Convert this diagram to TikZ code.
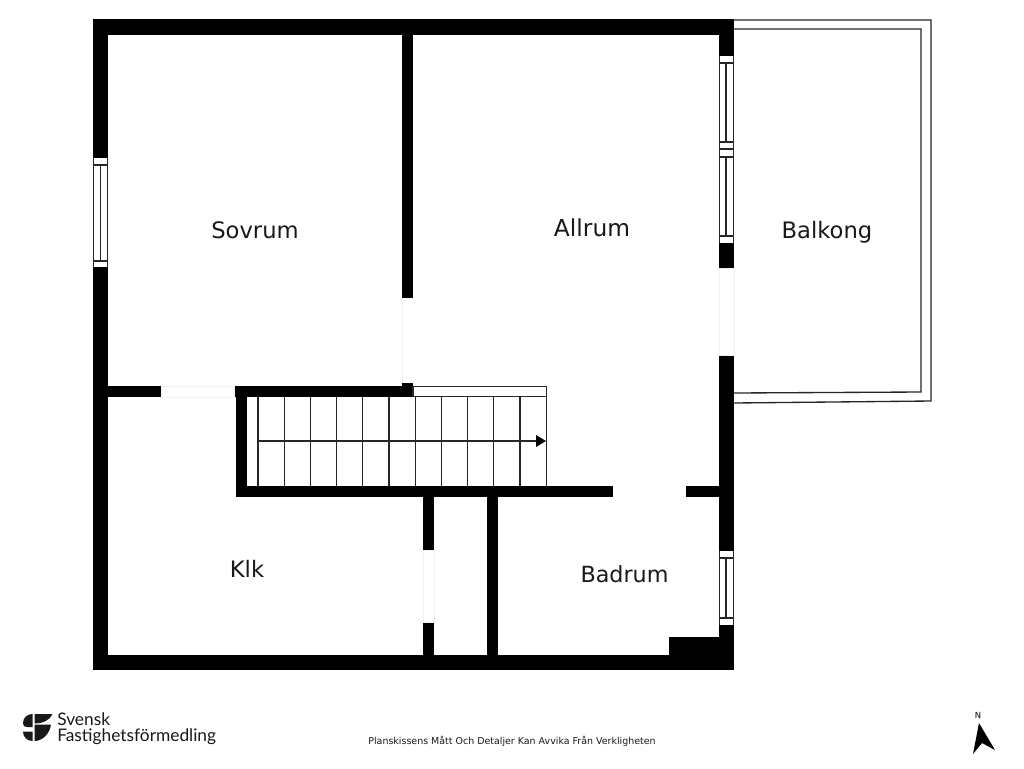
\documentclass[tikz,border=0pt]{standalone}
\usepackage{fontspec}
\setmainfont{DejaVu Sans}
\newfontfamily\logofont{Lato}

\begin{document}
\begin{tikzpicture}[x=0.75pt,y=-0.75pt]
        \tikzstyle{wall}=[fill=black,draw=none]
        \tikzstyle{thin line}=[draw=black!85,line width=0.8pt]
        \tikzstyle{pane}=[fill=white,draw=none]
        \tikzstyle{opening}=[draw=black!6,line width=0.5pt,fill=white]
        \tikzstyle{room}=[font=\fontsize{17}{20}\selectfont,text=black!90]
        \tikzstyle{logotext}=[font=\logofont\fontsize{13}{15}\selectfont,anchor=base west,inner sep=0pt,text=black!90]

        \useasboundingbox (0,0) rectangle (1024,768);
        \fill[white] (0,0) rectangle (1024,768);

        % Draw the balcony
        \draw[thin line,line width=1pt] (734,20) -- (931,20) -- (931,401) -- (734,403);
        \draw[thin line,line width=1pt] (734,29) -- (921,29) -- (921,392) -- (734,393);

        % Draw the outer walls
        \fill[wall] (93,19) rectangle (734,35);
        \fill[wall] (93,655) rectangle (734,670);
        \fill[wall] (93,19) rectangle (108,670);
        \fill[wall] (719,19) rectangle (734,268);
        \fill[wall] (719,355) rectangle (734,670);
        \fill[wall] (669,637) rectangle (719,655);

        % Draw the inner walls
        \fill[wall] (402,35) rectangle (413,298);
        \fill[wall] (108,386) rectangle (161,397);
        \fill[wall] (234,386) rectangle (413,397);
        \fill[wall] (402,383) rectangle (413,386);
        \fill[wall] (236,397) rectangle (247,497);
        \fill[wall] (236,486) rectangle (613,497);
        \fill[wall] (686,486) rectangle (719,497);
        \fill[wall] (423,497) rectangle (434,550);
        \fill[wall] (423,622) rectangle (434,655);
        \fill[wall] (487,497) rectangle (498,655);

        % Door openings
        \draw[opening] (161,386) rectangle (234,397);
        \draw[opening] (423,550) rectangle (434,622);
        \draw[opening] (719,268) rectangle (734,355);
        \draw[black!6,line width=0.5pt] (402.5,298) -- (402.5,383);

        % Windows
        \fill[pane] (93,158) rectangle (108,267);
        \draw[thin line] (93.5,158) -- (93.5,267);
        \draw[thin line] (107.5,158) -- (107.5,267);
        \draw[thin line] (93,165) -- (108,165);
        \draw[thin line] (93,261) -- (108,261);
        \draw[thin line] (100.5,165) -- (100.5,261);

        \fill[pane] (719,56) rectangle (734,243);
        \draw[thin line] (719.5,56) -- (719.5,243);
        \draw[thin line] (733.5,56) -- (733.5,243);
        \foreach \y in {63,142,149,157,236}
            \draw[thin line] (719,\y) -- (734,\y);
        \draw[thin line] (726,63) -- (726,142);
        \draw[thin line] (726,157) -- (726,236);

        \fill[pane] (719,551) rectangle (734,625);
        \draw[thin line] (719.5,551) -- (719.5,625);
        \draw[thin line] (733.5,551) -- (733.5,625);
        \foreach \y in {558,618}
            \draw[thin line] (719,\y) -- (734,\y);
        \draw[thin line] (726,558) -- (726,618);

        % Draw the stairs
        \draw[thin line,fill=white] (413,386.5) rectangle (546.5,396.5);
        \foreach \tread in {0,...,11}
            \draw[thin line] (258+26.2*\tread,397) -- (258+26.2*\tread,486);
        \draw[thin line] (258,441) -- (536,441);
        \fill[black] (536,435) -- (546,441) -- (536,447) -- cycle;

        % Room names
        \node[room] (sovrum) at (255,230) {Sovrum};
        \node[room,font=\fontsize{17.5}{21}\selectfont] (allrum) at (592,228) {Allrum};
        \node[room] (balkong) at (827,232.5) {Balkong};
        \node[room] (klk) at (247,569) {Klk};
        \node[room,font=\fontsize{16.7}{20}\selectfont] (badrum) at (624.5,574) {Badrum};

        \node[font=\fontsize{7.1}{9}\selectfont,text=black!90] (disclaimer) at (512,741.5)
            {Planskissens Mått Och Detaljer Kan Avvika Från Verkligheten};

        % Logo
        \node[logotext] (svensk) at (57,725) {Svensk};
        \node[logotext] (fastighets) at (57,741.5) {Fastighetsförmedling};
        \fill[black!90] (32.5,714) .. controls (27,714) and (23,718) .. (23,723)
            .. controls (23,726) and (24,727) .. (27,727) -- (32.5,727) -- cycle;
        \fill[black!90] (34.5,714) -- (52.5,714) .. controls (50,720) and (43,723.5) .. (34.5,723.5) -- cycle;
        \fill[black!90] (34.5,724.5) -- (51,724.5) .. controls (50,733) and (43,741) .. (34.5,741) -- cycle;
        \fill[black!90] (23,731.5) -- (32.5,731.5) -- (32.5,741) .. controls (27,741) and (23,737) .. (23,731.5) -- cycle;

        % North arrow
        \node[font=\fontsize{6.3}{8}\selectfont,inner sep=0pt] (north) at (978,715.5) {N};
        \fill[black] (979,723) -- (995,750) -- (982,743) -- (973,754) -- cycle;
\end{tikzpicture}
\end{document}
